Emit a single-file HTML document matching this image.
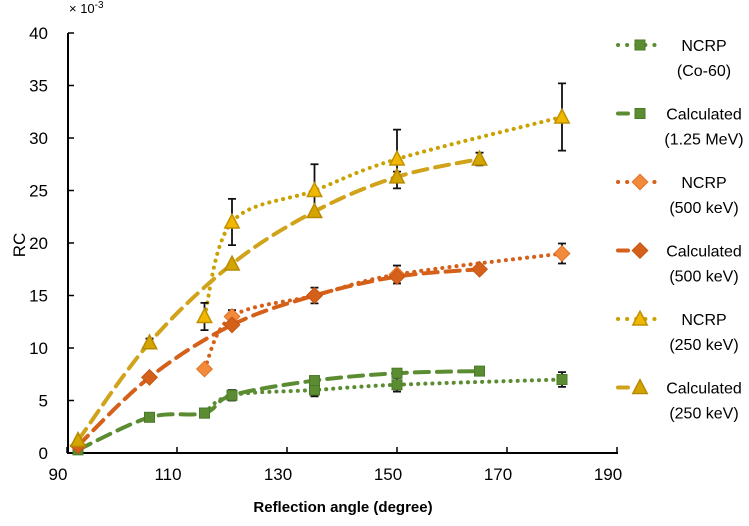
<!DOCTYPE html>
<html><head><meta charset="utf-8"><style>
body{margin:0;background:#fff;}
svg{font-family:"Liberation Sans",sans-serif;}
</style></head><body>
<svg id="chart" width="749" height="521" viewBox="0 0 749 521">
<g id="axes"></g><g id="plot"></g><g id="legend"></g>
</svg>
<script>
const xTicks=[90,110,130,150,170,190];
const yTicks=[0,5,10,15,20,25,30,35,40];
const ncrpCoX=[115,120,135,150,180], ncrpCoY=[3.8,5.5,6.0,6.5,7.0], ncrpCoErr=[0,0.5,0.6,0.65,0.7];
const calcCoX=[92,105,115,120,135,150,165], calcCoY=[0.3,3.4,3.8,5.5,6.9,7.6,7.8];
const ncrp500X=[115,120,135,150,180], ncrp500Y=[8,13,15,17,19], ncrp500Err=[0,0.6,0.75,0.85,0.95];
const calc500X=[92,105,120,135,150,165], calc500Y=[0.7,7.2,12.2,15,16.8,17.5];
const ncrp250X=[115,120,135,150,180], ncrp250Y=[13,22,25,28,32], ncrp250Err=[1.3,2.2,2.5,2.8,3.2];
const calc250X=[92,105,120,135,150,165], calc250Y=[1.2,10.5,18,23,26.3,28], calc250Err=[0,0.4,0,0,0.5,0.6];

const NS="http://www.w3.org/2000/svg";
const sx=v=>67+(v-90)*5.5, sy=v=>453-v*10.5;
function mk(tag,attrs,parent){const e=document.createElementNS(NS,tag);for(const k in attrs)e.setAttribute(k,attrs[k]);parent.appendChild(e);return e;}
const axes=document.getElementById('axes'),plot=document.getElementById('plot'),leg=document.getElementById('legend');
let a=mk('line',{x1:68,y1:33,x2:68,y2:454,stroke:'#000','stroke-width':2},axes);

a=mk('line',{x1:67,y1:453,x2:618,y2:453,stroke:'#000','stroke-width':2},axes);

yTicks.forEach(v=>{mk('line',{x1:68,x2:74,y1:sy(v),y2:sy(v),stroke:'#000','stroke-width':1.5},axes);
 const t=mk('text',{x:48,y:sy(v)+6,'text-anchor':'end','font-size':17},axes);t.textContent=v;
 });
xTicks.forEach(v=>{mk('line',{x1:sx(v),x2:sx(v),y1:453,y2:447,stroke:'#000','stroke-width':1.5},axes);
 const t=mk('text',{x:sx(v)-9,y:480,'text-anchor':'middle','font-size':17},axes);t.textContent=v;
 });
let t=mk('text',{x:343,y:512,'text-anchor':'middle','font-size':15,'font-weight':'bold'},axes);t.textContent='Reflection angle (degree)';

t=mk('text',{x:25,y:245,'text-anchor':'middle','font-size':17,transform:'rotate(-90 25 245)'},axes);t.textContent='RC';

t=mk('text',{x:69,y:13,'font-size':13},axes);t.innerHTML='× 10<tspan dy="-5" font-size="10">-3</tspan>';


function smooth(pts){let d=`M${pts[0][0]},${pts[0][1]}`;for(let i=0;i<pts.length-1;i++){const p0=pts[i-1]||pts[i],p1=pts[i],p2=pts[i+1],p3=pts[i+2]||p2;const k=6;
 d+=` C${p1[0]+(p2[0]-p0[0])/k},${p1[1]+(p2[1]-p0[1])/k} ${p2[0]-(p3[0]-p1[0])/k},${p2[1]-(p3[1]-p1[1])/k} ${p2[0]},${p2[1]}`;}return d;}
function marker(g,type,x,y,fill,stroke,s){
 if(type==='sq')return mk('rect',{x:x-s,y:y-s,width:2*s,height:2*s,fill,stroke,'stroke-width':1},g);
 if(type==='di')return mk('polygon',{points:`${x},${y-s*1.3} ${x+s*1.3},${y} ${x},${y+s*1.3} ${x-s*1.3},${y}`,fill,stroke,'stroke-width':1},g);
 return mk('polygon',{points:`${x},${y-s*1.3} ${x+s*1.2},${y+s} ${x-s*1.2},${y+s}`,fill,stroke,'stroke-width':1.5},g);}
const series=[
 {name:'ncrp-co60',X:ncrpCoX,Y:ncrpCoY,E:ncrpCoErr,col:'#5b8c32',mf:'#5b8c32',ms:'#4a7a28',type:'sq',dash:'0.1 7',l1:'NCRP',l2:'(Co-60)'},
 {name:'calc-1.25mev',X:calcCoX,Y:calcCoY,E:null,col:'#5b8c32',mf:'#5b8c32',ms:'#4a7a28',type:'sq',dash:'14 8',l1:'Calculated',l2:'(1.25 MeV)'},
 {name:'ncrp-500kev',X:ncrp500X,Y:ncrp500Y,E:ncrp500Err,col:'#d4601a',mf:'#f28a3c',ms:'#e4702a',type:'di',dash:'0.1 7',l1:'NCRP',l2:'(500 keV)'},
 {name:'calc-500kev',X:calc500X,Y:calc500Y,E:null,col:'#d4601a',mf:'#d4601a',ms:'#c45512',type:'di',dash:'14 8',l1:'Calculated',l2:'(500 keV)'},
 {name:'ncrp-250kev',X:ncrp250X,Y:ncrp250Y,E:ncrp250Err,col:'#c9a100',mf:'#f0b800',ms:'#c09000',type:'tr',dash:'0.1 7',l1:'NCRP',l2:'(250 keV)'},
 {name:'calc-250kev',X:calc250X,Y:calc250Y,E:calc250Err,col:'#d0a31a',mf:'#d4a500',ms:'#b88a00',type:'tr',dash:'14 8',l1:'Calculated',l2:'(250 keV)'}];
series.forEach((s,si)=>{
 const g=mk('g',{},plot);
 const pts=s.X.map((x,i)=>[sx(x),sy(s.Y[i])]);
 mk('path',{d:smooth(pts),fill:'none',stroke:s.col,'stroke-width':4,'stroke-dasharray':s.dash,'stroke-linecap':'round'},g);
 if(s.E)s.X.forEach((x,i)=>{const e=s.E[i];if(!e)return;const X=sx(x),y1=sy(s.Y[i]+e),y2=sy(s.Y[i]-e);
  const eb=mk('path',{d:`M${X},${y1}V${y2}M${X-4},${y1}H${X+4}M${X-4},${y2}H${X+4}`,stroke:'#111','stroke-width':1.8,fill:'none'},g);
  });
 pts.forEach(p=>{const m=marker(g,s.type,p[0],p[1],s.mf,s.ms,s.type==='sq'?5:6);
  });
 const ly=45+si*68.5;
 const lg=mk('g',{},leg);
 mk('line',{x1:618,x2:658,y1:ly,y2:ly,stroke:s.col,'stroke-width':4,'stroke-dasharray':s.dash==='14 8'?'10 30':'0.1 9','stroke-linecap':'round'},lg);
 marker(lg,s.type,640,ly,s.mf,s.ms,s.type==='sq'?5:6);
 let tt=mk('text',{x:704,y:ly+6,'text-anchor':'middle','font-size':16},lg);tt.textContent=s.l1;
 tt=mk('text',{x:704,y:ly+31,'text-anchor':'middle','font-size':16},lg);tt.textContent=s.l2;
});
</script>
</body></html>
